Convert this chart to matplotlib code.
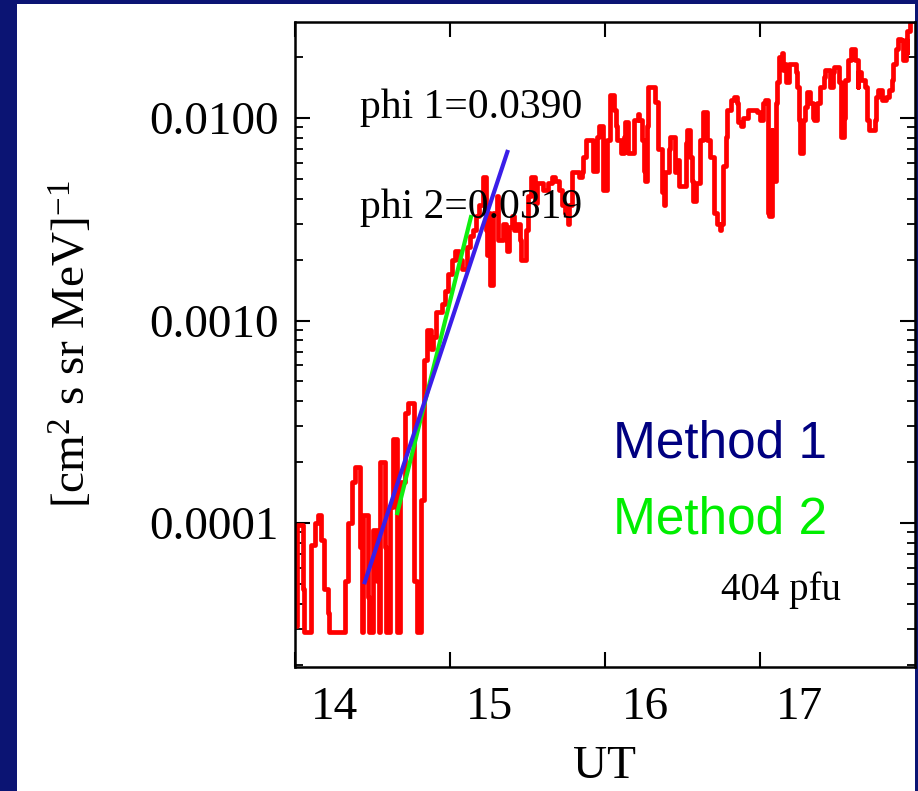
import matplotlib
matplotlib.use("Agg")
import matplotlib.pyplot as plt
from matplotlib import font_manager
from matplotlib.patches import Rectangle
from matplotlib.ticker import FixedLocator, FixedFormatter, LogLocator, NullFormatter

# proton flux, UT hours vs [cm^2 s sr MeV]^-1
ut = [14.00, 14.01, 14.05, 14.06, 14.10, 14.13, 14.15, 14.17, 14.19, 14.21,
      14.22, 14.32, 14.34, 14.37, 14.39, 14.42, 14.43, 14.44, 14.47, 14.48,
      14.50, 14.53, 14.54, 14.55, 14.58, 14.59, 14.61, 14.63, 14.66, 14.66,
      14.68, 14.71, 14.73, 14.77, 14.79, 14.81, 14.83, 14.85, 14.88, 14.89,
      14.91, 14.95, 14.97, 14.99, 15.01, 15.03, 15.06, 15.08, 15.11, 15.13,
      15.15, 15.17, 15.19, 15.21, 15.23, 15.24, 15.25, 15.26, 15.28, 15.30,
      15.31, 15.34, 15.36, 15.37, 15.38, 15.40, 15.41, 15.43, 15.45, 15.46,
      15.49, 15.50, 15.52, 15.55, 15.56, 15.60, 15.63, 15.66, 15.68, 15.70,
      15.72, 15.74, 15.76, 15.77, 15.79, 15.83, 15.85, 15.86, 15.88, 15.92,
      15.95, 15.96, 15.99, 16.01, 16.03, 16.06, 16.07, 16.08, 16.10, 16.12,
      16.13, 16.15, 16.19, 16.21, 16.22, 16.24, 16.25, 16.26, 16.27, 16.28,
      16.32, 16.34, 16.37, 16.38, 16.39, 16.41, 16.42, 16.45, 16.46, 16.48,
      16.52, 16.53, 16.55, 16.56, 16.57, 16.59, 16.61, 16.63, 16.66, 16.68,
      16.70, 16.70, 16.72, 16.74, 16.75, 16.76, 16.78, 16.79, 16.81, 16.83,
      16.85, 16.86, 16.88, 16.89, 16.92, 16.95, 16.98, 17.00, 17.02, 17.03,
      17.05, 17.05, 17.06, 17.08, 17.08, 17.10, 17.11, 17.12, 17.14, 17.15,
      17.16, 17.17, 17.19, 17.23, 17.24, 17.25, 17.26, 17.28, 17.29, 17.30,
      17.32, 17.34, 17.35, 17.37, 17.39, 17.41, 17.42, 17.45, 17.47, 17.48,
      17.51, 17.52, 17.54, 17.55, 17.57, 17.59, 17.61, 17.63, 17.63, 17.65,
      17.68, 17.69, 17.70, 17.74, 17.75, 17.76, 17.79, 17.81, 17.83, 17.85,
      17.86, 17.88, 17.89, 17.91, 17.92, 17.94, 17.95, 17.95, 17.97, 17.99]
flux = [3.1e-5, 9.8e-5, 4.7e-5, 2.9e-5, 7.8e-5, 1.0e-4, 1.1e-4, 8.2e-5, 4.7e-5, 3.6e-5,
        2.9e-5, 5.2e-5, 1.0e-4, 1.6e-4, 1.9e-4, 7.6e-5, 2.9e-5, 1.1e-4, 4.3e-5, 2.9e-5,
        9.2e-5, 5.2e-5, 2.9e-5, 2.0e-4, 7.6e-5, 2.9e-5, 1.2e-4, 2.6e-4, 5.7e-5, 2.9e-5,
        1.6e-4, 3.5e-4, 3.9e-4, 5.2e-5, 2.9e-5, 1.3e-4, 6.4e-4, 9.0e-4, 7.2e-4, 8.3e-4,
        1.1e-3, 1.2e-3, 1.4e-3, 1.7e-3, 2.0e-3, 2.2e-3, 2.0e-3, 1.8e-3, 2.3e-3, 2.6e-3,
        2.8e-3, 3.3e-3, 3.7e-3, 5.1e-3, 2.8e-3, 2.1e-3, 3.4e-3, 1.5e-3, 3.4e-3, 4.1e-3,
        2.5e-3, 3.0e-3, 2.5e-3, 2.2e-3, 2.9e-3, 3.3e-3, 2.8e-3, 3.0e-3, 2.5e-3, 2.0e-3,
        2.8e-3, 4.1e-3, 5.1e-3, 3.8e-3, 4.8e-3, 4.4e-3, 4.8e-3, 5.1e-3, 4.9e-3, 4.4e-3,
        3.7e-3, 3.4e-3, 3.0e-3, 3.7e-3, 5.4e-3, 5.1e-3, 5.4e-3, 6.4e-3, 7.8e-3, 5.5e-3,
        8.1e-3, 9.1e-3, 4.4e-3, 7.8e-3, 1.3e-2, 1.1e-2, 9.1e-3, 7.8e-3, 6.7e-3, 8.1e-3,
        9.6e-3, 6.7e-3, 9.8e-3, 1.05e-2, 9.8e-3, 7.8e-3, 5.5e-3, 4.9e-3, 9.1e-3, 1.42e-2,
        1.2e-2, 7.0e-3, 4.3e-3, 3.7e-3, 5.4e-3, 7.0e-3, 8.1e-3, 5.4e-3, 6.2e-3, 4.6e-3,
        7.5e-3, 8.7e-3, 6.4e-3, 4.9e-3, 3.9e-3, 4.8e-3, 7.8e-3, 1.07e-2, 7.8e-3, 6.4e-3,
        4.4e-3, 3.4e-3, 3.0e-3, 2.8e-3, 3.0e-3, 5.8e-3, 8.1e-3, 1.1e-2, 1.23e-2, 1.27e-2,
        1.19e-2, 9.6e-3, 9.1e-3, 1.0e-2, 1.1e-2, 1.1e-2, 1.07e-2, 9.8e-3, 1.19e-2, 1.23e-2,
        5.9e-3, 3.4e-3, 3.3e-3, 8.7e-3, 4.9e-3, 1.19e-2, 1.5e-2, 2.0e-2, 2.1e-2, 1.73e-2,
        1.85e-2, 1.5e-2, 1.85e-2, 1.68e-2, 1.42e-2, 9.8e-3, 6.7e-3, 9.8e-3, 1.14e-2, 1.35e-2,
        1.19e-2, 1.0e-2, 9.8e-3, 1.19e-2, 1.42e-2, 1.6e-2, 1.73e-2, 1.42e-2, 1.68e-2, 1.78e-2,
        1.5e-2, 8.1e-3, 1.0e-2, 1.54e-2, 1.93e-2, 2.2e-2, 1.93e-2, 1.42e-2, 1.68e-2, 1.54e-2,
        1.42e-2, 9.8e-3, 8.7e-3, 9.8e-3, 1.27e-2, 1.37e-2, 1.23e-2, 1.27e-2, 1.37e-2, 1.54e-2,
        1.85e-2, 2.2e-2, 2.45e-2, 2.43e-2, 1.93e-2, 2.43e-2, 2.1e-2, 2.7e-2, 3.0e-2, 3.0e-2]

# exponential fits (end points)
fit1_ut = [14.45, 15.37]
fit1_flux = [5.1e-5, 6.8e-3]
fit2_ut = [14.66, 15.135]
fit2_flux = [1.12e-4, 3.24e-3]

xticks = [14, 15, 16, 17]
xtick_labels = ["14", "15", "16", "17"]
yticks = [1e-4, 1e-3, 1e-2]
ytick_labels = ["0.0001", "0.0010", "0.0100"]

serif = "Liberation Serif"
installed = {f.name for f in font_manager.fontManager.ttflist}
if "Liberation Sans Narrow" in installed:
    legend_font, legend_size = "Liberation Sans Narrow", 46
else:
    legend_font, legend_size = "Liberation Sans", 37

plt.rcParams["mathtext.fontset"] = "custom"
plt.rcParams["mathtext.rm"] = serif
plt.rcParams["mathtext.it"] = serif

W, H = 918, 791
fig = plt.figure(figsize=(W / 100, H / 100), dpi=100, facecolor="#0b1473")
fig.patches.append(Rectangle((17 / W, 0), (915 - 17) / W, 1 - 4 / H,
                             transform=fig.transFigure, facecolor="white",
                             edgecolor="none", zorder=-5))

ax = fig.add_axes([295 / W, 1 - 667 / H, 620 / W, 645 / H])
ax.set_zorder(2)
ax.set_facecolor("white")

ax.plot(ut, flux, drawstyle="steps-post", color="red", lw=3.4, zorder=2)
ax.plot(fit2_ut, fit2_flux, color="#10ee10", lw=3.0, zorder=3)
ax.plot(fit1_ut, fit1_flux, color="#3a1ee8", lw=3.0, zorder=4)

ax.set_yscale("log")
ax.set_xlim(14, 18)
ax.set_ylim(1.945e-5, 2.98e-2)

# tick marks on the hours, labels drawn a bit to the right of them
ax.xaxis.set_major_locator(FixedLocator(xticks))
ax.xaxis.set_major_formatter(NullFormatter())
ax.xaxis.set_minor_locator(FixedLocator([t + 0.258 for t in xticks]))
ax.xaxis.set_minor_formatter(FixedFormatter(xtick_labels))
ax.tick_params(axis="x", which="major", direction="in", top=True, length=11, width=1.5)
ax.tick_params(axis="x", which="minor", length=0, pad=14, labelsize=34)

ax.yaxis.set_major_locator(FixedLocator(yticks))
ax.yaxis.set_major_formatter(FixedFormatter(ytick_labels))
ax.yaxis.set_minor_locator(LogLocator(base=10, subs=range(2, 10)))
ax.yaxis.set_minor_formatter(NullFormatter())
ax.tick_params(axis="y", which="major", direction="in", right=True, length=11,
               width=1.5, pad=12, labelsize=34)
ax.tick_params(axis="y", which="minor", direction="in", right=True, length=6, width=1.3)

for lbl in ax.get_xticklabels(minor=True) + ax.get_yticklabels():
    lbl.set_fontfamily(serif)

for sp in ax.spines.values():
    sp.set_linewidth(1.8)

fig.text(72 / W, 1 - 344 / H, r"[cm$^{2}$ s sr MeV]$^{-1}$", rotation=90,
         ha="center", va="center", fontsize=34, family=serif)
fig.text(605 / W, 1 - 778 / H, "UT", ha="center", va="baseline", fontsize=34, family=serif)

fig.text(360 / W, 1 - 118 / H, "phi 1=0.0390", ha="left", va="baseline",
         fontsize=30, family=serif)
fig.text(360 / W, 1 - 218 / H, "phi 2=0.0319", ha="left", va="baseline",
         fontsize=30, family=serif)
fig.text(613 / W, 1 - 457 / H, "Method 1", ha="left", va="baseline",
         fontsize=legend_size, family=legend_font, color="#000080")
fig.text(613 / W, 1 - 533 / H, "Method 2", ha="left", va="baseline",
         fontsize=legend_size, family=legend_font, color="#00ee00")
fig.text(721 / W, 1 - 600 / H, "404 pfu", ha="left", va="baseline",
         fontsize=28, family=serif)

fig.savefig("out.png", dpi=100, facecolor=fig.get_facecolor())
